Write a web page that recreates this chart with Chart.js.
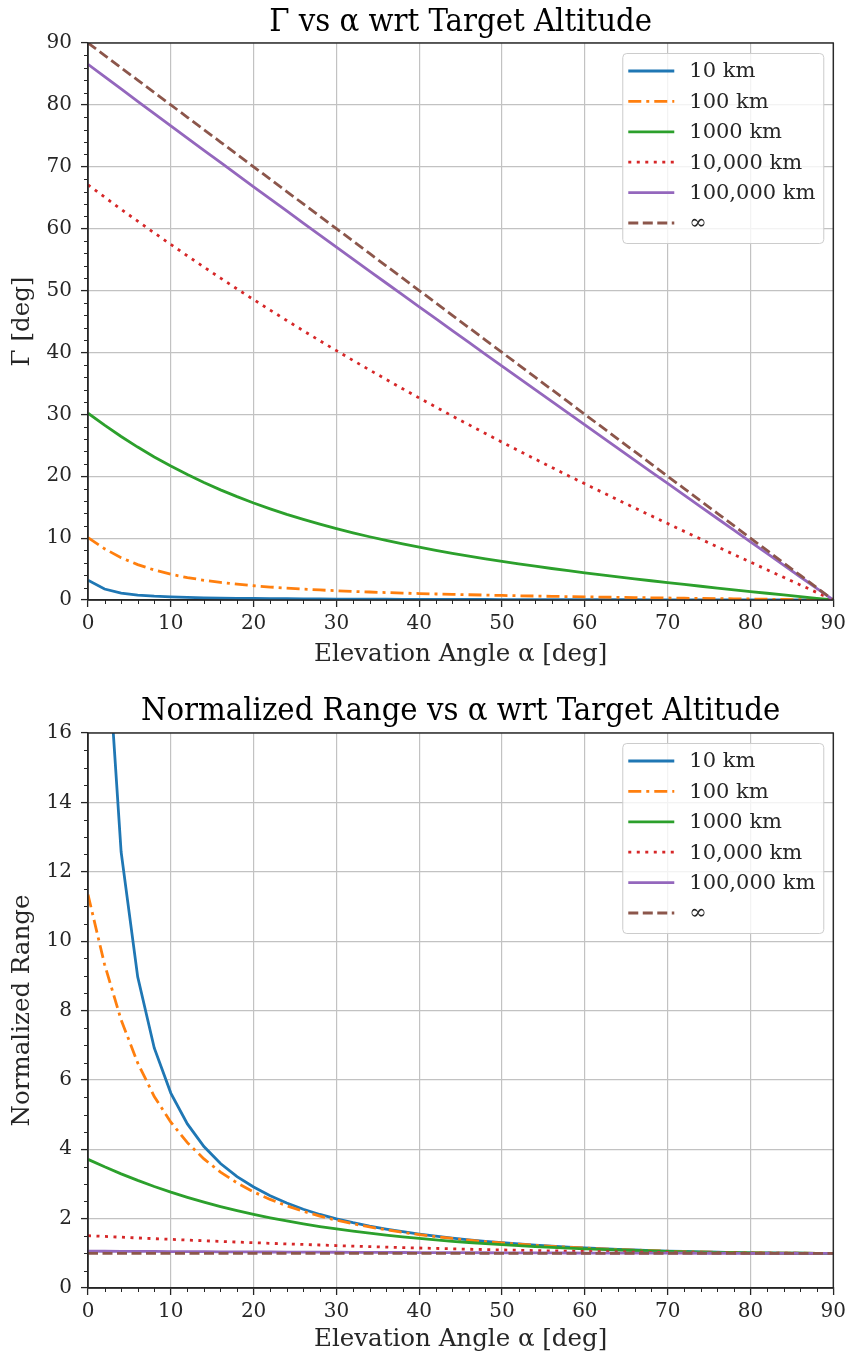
<!DOCTYPE html>
<html>
<head>
<meta charset="utf-8">
<script src="https://cdn.jsdelivr.net/npm/chart.js@4.4.1/dist/chart.umd.min.js"></script>
<style>
  html, body { margin: 0; padding: 0; background: #ffffff; }
  #wrap { position: relative; width: 851px; height: 1358px; }
  .panel { position: absolute; left: 0; width: 851px; }
  #p1 { top: 0; height: 680px; }
  #p2 { top: 680px; height: 678px; }
</style>
</head>
<body>
<div id="wrap">
  <div class="panel" id="p1"><canvas id="gammaChart"></canvas></div>
  <div class="panel" id="p2"><canvas id="rangeChart"></canvas></div>
</div>
<script>
// Elevation angle samples [deg]
const alpha = [0, 2, 4, 6, 8, 10, 12, 14, 16, 18, 20, 22, 24, 26, 28, 30, 32, 34, 36, 38, 40, 42, 44,
  46, 48, 50, 52, 54, 56, 58, 60, 62, 64, 66, 68, 70, 72, 74, 76, 78, 80, 82, 84, 86, 88, 90];

const altitudeLabels = ['10 km', '100 km', '1000 km', '10,000 km', '100,000 km', '\u221E'];

// Earth central angle Γ [deg] per target altitude
const gamma10 = [3.206, 1.778, 1.125, 0.800, 0.615, 0.496, 0.415, 0.355, 0.310, 0.274, 0.245, 0.221,
  0.200, 0.184, 0.169, 0.155, 0.144, 0.133, 0.124, 0.115, 0.107, 0.100, 0.093, 0.087, 0.081, 0.075,
  0.070, 0.065, 0.061, 0.056, 0.052, 0.048, 0.044, 0.040, 0.036, 0.033, 0.029, 0.026, 0.022, 0.019,
  0.016, 0.013, 0.009, 0.006, 0.003, 0];
const gamma100 = [10.08, 8.275, 6.837, 5.715, 4.843, 4.163, 3.624, 3.19, 2.841, 2.55, 2.303, 2.095,
  1.915, 1.758, 1.62, 1.498, 1.389, 1.290, 1.200, 1.118, 1.043, 0.973, 0.908, 0.848, 0.792, 0.738,
  0.688, 0.640, 0.595, 0.551, 0.509, 0.469, 0.431, 0.393, 0.357, 0.322, 0.287, 0.254, 0.220, 0.188,
  0.156, 0.124, 0.093, 0.062, 0.031, 0];
const gamma1000 = [30.18, 28.24, 26.42, 24.71, 23.12, 21.64, 20.27, 18.99, 17.80, 16.70, 15.68, 14.73,
  13.84, 13.02, 12.25, 11.53, 10.85, 10.22, 9.62, 9.06, 8.53, 8.03, 7.54, 7.09, 6.66, 6.24, 5.85,
  5.46, 5.09, 4.74, 4.39, 4.06, 3.73, 3.42, 3.11, 2.80, 2.51, 2.22, 1.93, 1.65, 1.37, 1.09, 0.82,
  0.54, 0.27, 0];
const gamma10000 = [67.08, 65.10, 63.14, 61.21, 59.32, 57.45, 55.61, 53.80, 52.02, 50.26, 48.54, 46.84,
  45.16, 43.51, 41.89, 40.29, 38.72, 37.17, 35.64, 34.13, 32.64, 31.18, 29.73, 28.31, 26.90, 25.50,
  24.13, 22.77, 21.42, 20.09, 18.77, 17.47, 16.17, 14.89, 13.61, 12.35, 11.09, 9.84, 8.59, 7.36,
  6.12, 4.89, 3.67, 2.44, 1.22, 0];
const gamma100000 = [86.56, 84.57, 82.57, 80.58, 78.60, 76.62, 74.64, 72.67, 70.70, 68.73, 66.77, 64.82,
  62.86, 60.91, 58.97, 57.03, 55.09, 53.15, 51.22, 49.29, 47.37, 45.45, 43.53, 41.61, 39.70, 37.79,
  35.89, 33.98, 32.08, 30.18, 28.28, 26.39, 24.49, 22.60, 20.71, 18.83, 16.94, 15.05, 13.17, 11.29,
  9.40, 7.52, 5.64, 3.76, 1.88, 0];
const gammaInf = [90, 88, 86, 84, 82, 80, 78, 76, 74, 72, 70, 68, 66, 64, 62, 60, 58, 56, 54, 52, 50,
  48, 46, 44, 42, 40, 38, 36, 34, 32, 30, 28, 26, 24, 22, 20, 18, 16, 14, 12, 10, 8, 6, 4, 2, 0];

// Slant range divided by target altitude
const range10 = [35.72, 19.83, 12.57, 8.97, 6.92, 5.62, 4.73, 4.08, 3.59, 3.21, 2.91, 2.66, 2.45,
  2.27, 2.12, 1.995, 1.883, 1.785, 1.699, 1.622, 1.554, 1.493, 1.438, 1.389, 1.345, 1.305, 1.268,
  1.236, 1.206, 1.179, 1.155, 1.132, 1.113, 1.095, 1.078, 1.064, 1.052, 1.040, 1.031, 1.022, 1.015,
  1.010, 1.006, 1.002, 1.001, 1];
const range100 = [11.34, 9.33, 7.73, 6.49, 5.52, 4.78, 4.19, 3.72, 3.34, 3.03, 2.77, 2.554, 2.370,
  2.211, 2.074, 1.955, 1.851, 1.759, 1.677, 1.604, 1.539, 1.481, 1.428, 1.380, 1.337, 1.299, 1.263,
  1.231, 1.202, 1.176, 1.152, 1.130, 1.111, 1.093, 1.077, 1.063, 1.051, 1.040, 1.030, 1.022, 1.015,
  1.010, 1.005, 1.003, 1.001, 1];
const range1000 = [3.709, 3.493, 3.291, 3.102, 2.926, 2.763, 2.613, 2.474, 2.346, 2.229, 2.122, 2.023,
  1.932, 1.849, 1.772, 1.702, 1.638, 1.579, 1.525, 1.475, 1.429, 1.387, 1.347, 1.312, 1.279, 1.248,
  1.220, 1.195, 1.171, 1.150, 1.130, 1.112, 1.095, 1.081, 1.067, 1.055, 1.044, 1.035, 1.026, 1.019,
  1.014, 1.008, 1.005, 1.002, 1.001, 1];
const range10000 = [1.509, 1.486, 1.465, 1.443, 1.422, 1.402, 1.382, 1.362, 1.343, 1.324, 1.306, 1.288,
  1.271, 1.255, 1.239, 1.223, 1.208, 1.193, 1.180, 1.166, 1.153, 1.141, 1.129, 1.118, 1.107, 1.097,
  1.088, 1.078, 1.070, 1.062, 1.054, 1.047, 1.041, 1.034, 1.029, 1.024, 1.019, 1.015, 1.012, 1.009,
  1.006, 1.004, 1.002, 1.001, 1.000, 1];
const range100000 = [1.062, 1.060, 1.057, 1.055, 1.053, 1.051, 1.049, 1.047, 1.044, 1.042, 1.040, 1.038,
  1.036, 1.034, 1.032, 1.031, 1.029, 1.027, 1.025, 1.023, 1.022, 1.020, 1.019, 1.017, 1.016, 1.014,
  1.013, 1.012, 1.010, 1.009, 1.008, 1.007, 1.006, 1.005, 1.004, 1.004, 1.003, 1.002, 1.002, 1.001,
  1.001, 1.001, 1.000, 1.000, 1.000, 1];
const rangeInf = [1, 1, 1, 1, 1, 1, 1, 1, 1, 1, 1, 1, 1, 1, 1, 1, 1, 1, 1, 1, 1, 1, 1, 1, 1, 1, 1, 1,
  1, 1, 1, 1, 1, 1, 1, 1, 1, 1, 1, 1, 1, 1, 1, 1, 1, 1];

// Tick layout
const xTicks = { min: 0, max: 90, major: 10, minor: 2 };
const gammaTicks = { min: 0, max: 90, major: 10, minor: 2 };
const rangeTicks = { min: 0, max: 16, major: 2, minor: 0.5 };

const SERIF = "'DejaVu Serif', serif";
const TITLE_FONT = "'DejaVu Serif Condensed', 'DejaVu Serif', serif";
const INK = '#262626';

const lineStyles = [
  { color: '#1f77b4', dash: [] },
  { color: '#ff7f0e', dash: [13, 5, 3, 5] },
  { color: '#2ca02c', dash: [] },
  { color: '#d62728', dash: [3, 5.5] },
  { color: '#9467bd', dash: [] },
  { color: '#8c564b', dash: [10, 4.5] }
];

function buildDatasets(seriesList) {
  return seriesList.map((vals, i) => ({
    label: altitudeLabels[i],
    data: alpha.map((a, k) => ({ x: a, y: vals[k] })),
    borderColor: lineStyles[i].color,
    backgroundColor: lineStyles[i].color,
    borderDash: lineStyles[i].dash,
    borderWidth: 2.8,
    borderCapStyle: 'butt',
    pointRadius: 0,
    tension: 0,
    fill: false,
    order: seriesList.length - i
  }));
}

// Minor ticks on bottom/left plus the closed axes frame
const frameTicks = {
  id: 'frameTicks',
  afterDatasetsDraw(chart, args, opts) {
    const { ctx, chartArea: a, scales: { x, y } } = chart;
    ctx.save();
    ctx.strokeStyle = INK;
    ctx.lineWidth = 1;
    ctx.beginPath();
    const eps = 1e-9;
    for (let v = opts.x.min; v <= opts.x.max + eps; v += opts.x.minor) {
      if (Math.abs(v / opts.x.major - Math.round(v / opts.x.major)) < 1e-6) continue;
      const px = Math.round(x.getPixelForValue(v)) + 0.5;
      ctx.moveTo(px, a.bottom);
      ctx.lineTo(px, a.bottom + 4);
    }
    for (let v = opts.y.min; v <= opts.y.max + eps; v += opts.y.minor) {
      if (Math.abs(v / opts.y.major - Math.round(v / opts.y.major)) < 1e-6) continue;
      const py = Math.round(y.getPixelForValue(v)) + 0.5;
      ctx.moveTo(a.left, py);
      ctx.lineTo(a.left - 4, py);
    }
    ctx.stroke();
    ctx.lineWidth = 1.4;
    ctx.strokeRect(a.left, a.top, a.right - a.left, a.bottom - a.top);
    ctx.restore();
  }
};

// Framed legend in the upper right corner of the plot area
const boxLegend = {
  id: 'boxLegend',
  afterDraw(chart) {
    const { ctx, chartArea: a } = chart;
    const w = 201, h = 190;
    const left = a.right - 10 - w, top = a.top + 10;
    ctx.save();
    ctx.beginPath();
    ctx.roundRect(left + 0.5, top + 0.5, w, h, 4);
    ctx.fillStyle = 'rgba(255,255,255,0.8)';
    ctx.fill();
    ctx.strokeStyle = '#cccccc';
    ctx.lineWidth = 1;
    ctx.stroke();
    ctx.font = "21px " + SERIF;
    ctx.textBaseline = 'middle';
    ctx.textAlign = 'left';
    chart.data.datasets.forEach((ds, i) => {
      const cy = top + 18 + i * 30.4;
      ctx.beginPath();
      ctx.strokeStyle = ds.borderColor;
      ctx.lineWidth = ds.borderWidth;
      ctx.setLineDash(ds.borderDash);
      ctx.moveTo(left + 6, cy);
      ctx.lineTo(left + 52, cy);
      ctx.stroke();
      ctx.setLineDash([]);
      ctx.fillStyle = INK;
      ctx.fillText(ds.label, left + 67, cy + 1);
    });
    ctx.restore();
  }
};

function makeChart(canvasId, cfg) {
  const yt = cfg.yTicks;
  return new Chart(document.getElementById(canvasId), {
    type: 'line',
    data: { datasets: buildDatasets(cfg.series) },
    options: {
      responsive: true,
      maintainAspectRatio: false,
      animation: false,
      events: [],
      layout: { padding: { left: 0, right: 15, top: 0, bottom: 0 } },
      plugins: {
        legend: { display: false },
        tooltip: { enabled: false },
        title: {
          display: true,
          fullSize: false,
          text: cfg.title,
          color: '#000',
          font: { family: TITLE_FONT, size: 32.5, weight: 'normal', lineHeight: 1.2 },
          padding: cfg.titlePad
        },
        frameTicks: { x: xTicks, y: yt }
      },
      scales: {
        x: {
          type: 'linear',
          min: xTicks.min,
          max: xTicks.max,
          afterFit: (s) => { s.height = cfg.xAxisHeight; },
          ticks: { stepSize: xTicks.major, color: INK, padding: 5, maxRotation: 0,
                   font: { family: SERIF, size: 20 } },
          grid: { color: '#c2c2c2', lineWidth: 1.2, tickColor: INK, tickLength: 7, tickWidth: 1.3 },
          border: { display: true, color: INK, width: 1.4 },
          title: { display: true, text: 'Elevation Angle \u03B1 [deg]', color: INK,
                   font: { family: SERIF, size: 24.5, lineHeight: 1.2 },
                   padding: { top: 0, bottom: cfg.xTitlePad } }
        },
        y: {
          type: 'linear',
          min: yt.min,
          max: yt.max,
          afterFit: (s) => { s.width = 88; },
          ticks: { stepSize: yt.major, color: INK, padding: 9,
                   font: { family: SERIF, size: 20 } },
          grid: { color: '#c2c2c2', lineWidth: 1.2, tickColor: INK, tickLength: 7, tickWidth: 1.3 },
          border: { display: true, color: INK, width: 1.4 },
          title: { display: true, text: cfg.yTitle, color: INK,
                   font: { family: SERIF, size: 24.5, lineHeight: 1.2 },
                   padding: { top: 8, bottom: 0 } }
        }
      }
    },
    plugins: [frameTicks, boxLegend]
  });
}

makeChart('gammaChart', {
  title: '\u0393 vs \u03B1 wrt Target Altitude',
  yTitle: '\u0393 [deg]',
  yTicks: gammaTicks,
  series: [gamma10, gamma100, gamma1000, gamma10000, gamma100000, gammaInf],
  titlePad: { top: 3, bottom: 1 },
  xAxisHeight: 80,
  xTitlePad: 10.3
});

makeChart('rangeChart', {
  title: 'Normalized Range vs \u03B1 wrt Target Altitude',
  yTitle: 'Normalized Range',
  yTicks: rangeTicks,
  series: [range10, range100, range1000, range10000, range100000, rangeInf],
  titlePad: { top: 12.5, bottom: 1.5 },
  xAxisHeight: 70,
  xTitlePad: 3.3
});
</script>
</body>
</html>
